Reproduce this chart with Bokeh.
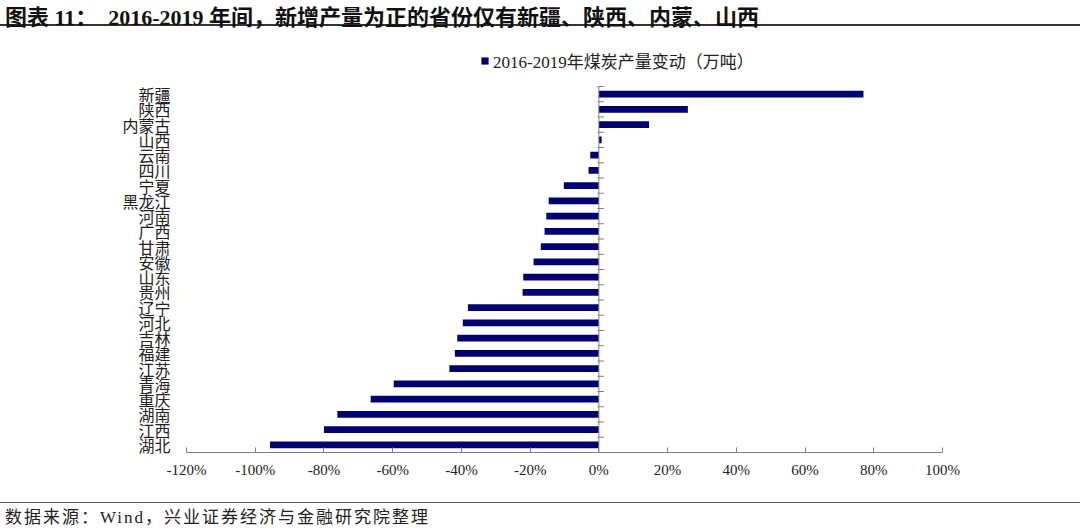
from bokeh.plotting import figure
from bokeh.models import (ColumnDataSource, Range1d, FixedTicker,
                          Legend, LegendItem, Div)
from bokeh.layouts import column
from bokeh.embed import file_html
from bokeh.resources import INLINE

# ---- data ----
provinces = ["新疆", "陕西", "内蒙古", "山西", "云南", "四川", "宁夏", "黑龙江", "河南", "广西",
             "甘肃", "安徽", "山东", "贵州", "辽宁", "河北", "吉林", "福建", "江苏", "青海",
             "重庆", "湖南", "江西", "湖北"]
change_pct = [77.0, 25.9, 14.6, 0.8, -2.5, -3.0, -10.2, -14.6, -15.3, -15.8,
              -16.9, -19.0, -22.0, -22.2, -38.1, -39.6, -41.2, -41.9, -43.5, -59.7,
              -66.4, -76.1, -80.0, -95.7]
x_tick_values = [-120, -100, -80, -60, -40, -20, 0, 20, 40, 60, 80, 100]
x_tick_labels = ["-120%", "-100%", "-80%", "-60%", "-40%", "-20%", "0%", "20%", "40%", "60%", "80%", "100%"]
series_name = "2016-2019年煤炭产量变动（万吨）"
title_text = "图表 11：&nbsp;&nbsp;2016-2019 年间，新增产量为正的省份仅有新疆、陕西、内蒙、山西"
source_text = "数据来源：Wind，兴业证券经济与金融研究院整理"

SERIF = "Liberation Serif, Noto Sans CJK SC"
BAR = "#000070"
AXIS = "#808080"

n = len(provinces)
ypos = [n - 1 - i for i in range(n)]          # first province at top
src = ColumnDataSource(dict(y=ypos, cat=provinces, val=change_pct))
bounds = ColumnDataSource(dict(b=[k - 0.5 for k in range(n + 1)]))
zero = ColumnDataSource(dict(x=[0], y0=[-0.5], y1=[n - 0.5]))

# frame: data area is 366 px tall (24 rows); extra 41 px above holds the legend
row_px = 366 / n
p = figure(width=1080, height=471,
           y_range=Range1d(-0.5, n - 0.5 + 41 / row_px),
           x_range=Range1d(x_tick_values[0], x_tick_values[-1]),
           output_backend="svg", toolbar_location=None,
           min_border_left=186, min_border_right=138,
           min_border_top=14, min_border_bottom=50)
p.outline_line_color = None
p.xgrid.visible = False
p.ygrid.visible = False

r = p.hbar(y="y", left=0, right="val", height=0.45, source=src,
           fill_color=BAR, line_color=None)

# zero axis line with category-boundary ticks
p.segment(x0="x", x1="x", y0="y0", y1="y1", source=zero, line_color=AXIS, line_width=1)
p.segment(x0=-0.4, x1=1.5, y0="b", y1="b", source=bounds, line_color=AXIS, line_width=1)

# x axis
xa = p.xaxis[0]
xa.ticker = FixedTicker(ticks=x_tick_values)
xa.major_label_overrides = {v: l for v, l in zip(x_tick_values, x_tick_labels)}
xa.axis_line_color = AXIS
xa.major_tick_line_color = AXIS
xa.major_tick_in = 5
xa.major_tick_out = 0
xa.minor_tick_line_color = None
xa.major_label_standoff = 9
xa.major_label_text_font = SERIF
xa.major_label_text_font_size = "15px"
xa.major_label_text_color = "#222222"

# y axis (labels only)
ya = p.yaxis[0]
ya.ticker = FixedTicker(ticks=ypos)
ya.major_label_overrides = {y: c for y, c in zip(ypos, provinces)}
ya.axis_line_color = None
ya.major_tick_line_color = None
ya.minor_tick_line_color = None
ya.major_tick_out = 0
ya.major_tick_in = 0
ya.major_label_standoff = 16
ya.major_label_text_font = "Noto Sans CJK SC"
ya.major_label_text_font_size = "16px"
ya.major_label_text_color = "#222222"

legend = Legend(items=[LegendItem(label=series_name, renderers=[r])],
                location=(294, 379), orientation="horizontal",
                glyph_width=9, glyph_height=9, label_standoff=4,
                padding=0, margin=0, border_line_color=None,
                background_fill_alpha=0,
                label_text_font=SERIF, label_text_font_size="17px",
                label_text_color="#222222")
p.add_layout(legend)

title_div = Div(text=f'<div style="font-family:\'Liberation Serif\',\'Noto Sans CJK SC\';'
                     f'font-weight:bold;font-size:22px;color:#111;white-space:nowrap;'
                     f'padding:2px 0 0 5px;height:26px;border-bottom:2px solid #333;width:1080px;">'
                     f'{title_text}</div>',
                width=1080, height=31, margin=0)
foot_div = Div(text=f'<div style="font-family:\'Liberation Serif\',\'Noto Sans CJK SC\';'
                    f'font-size:17px;color:#222;white-space:nowrap;letter-spacing:2px;'
                    f'padding:3px 0 0 5px;border-top:1px solid #555;width:1080px;">'
                    f'{source_text}</div>',
               width=1080, height=26, margin=0)

layout = column(title_div, p, foot_div, spacing=0)
open("out.html", "w").write(file_html(layout, INLINE))
